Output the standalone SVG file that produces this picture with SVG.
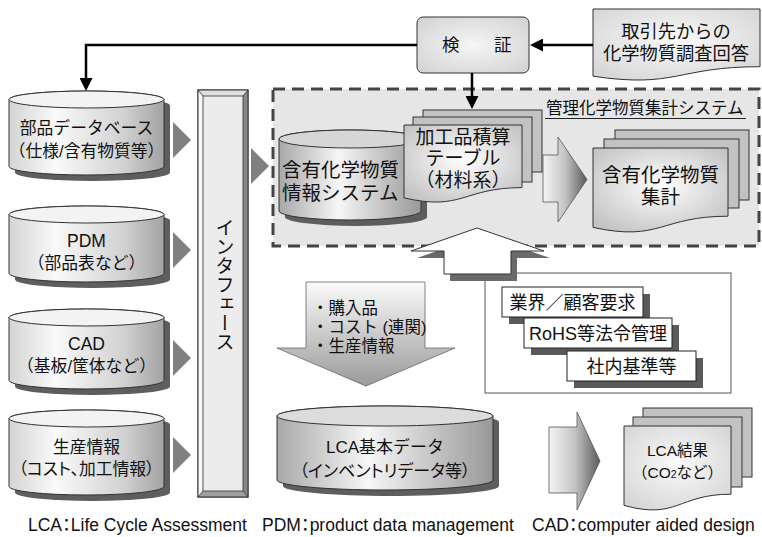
<svg xmlns="http://www.w3.org/2000/svg" width="762" height="537" viewBox="0 0 762 537">
<defs>
<style>
text{font-family:"Liberation Sans","Noto Sans CJK JP",sans-serif;fill:#111;}
.c{text-anchor:middle;}
.ol{stroke:#333;stroke-width:1;}
.sh{fill:#5e5e5e;}
.sheet{fill:#c2c2c2;stroke:#333;stroke-width:1;}
.tri{fill:#808080;}
.conn{fill:none;stroke:#000;stroke-width:2.5;}
.palt{font-feature-settings:"palt";}
.req{fill:#fff;stroke:#222;stroke-width:1;}
.rsh{fill:#5a5a5a;}
</style>
<linearGradient id="gCyl" x1="0" y1="0" x2="1" y2="0">
<stop offset="0" stop-color="#d4d4d4"/><stop offset="0.3" stop-color="#fafafa"/><stop offset="0.75" stop-color="#d0d0d0"/><stop offset="1" stop-color="#a2a2a2"/>
</linearGradient>
<linearGradient id="gCyl2" x1="0" y1="0" x2="1" y2="0">
<stop offset="0" stop-color="#a8a8a8"/><stop offset="0.42" stop-color="#f6f6f6"/><stop offset="1" stop-color="#989898"/>
</linearGradient>
<radialGradient id="gDoc" cx="0.5" cy="0.45" r="0.65">
<stop offset="0" stop-color="#ffffff"/><stop offset="1" stop-color="#c2c2c2"/>
</radialGradient>
<radialGradient id="gDocL" cx="0.5" cy="0.45" r="0.65">
<stop offset="0" stop-color="#fafafa"/><stop offset="1" stop-color="#d6d6d6"/>
</radialGradient>
<radialGradient id="gBox" cx="0.5" cy="0.5" r="0.65">
<stop offset="0" stop-color="#f6f6f6"/><stop offset="1" stop-color="#d4d4d4"/>
</radialGradient>
<linearGradient id="gArrR" x1="0" y1="0" x2="1" y2="0">
<stop offset="0" stop-color="#f4f4f4"/><stop offset="0.5" stop-color="#c4c4c4"/><stop offset="1" stop-color="#5a5a5a"/>
</linearGradient>
<linearGradient id="gArrD" x1="0" y1="0" x2="0" y2="1">
<stop offset="0" stop-color="#fbfbfb"/><stop offset="1" stop-color="#9a9a9a"/>
</linearGradient>
<marker id="ah" markerUnits="userSpaceOnUse" markerWidth="13" markerHeight="13" viewBox="0 0 13 13" refX="8" refY="6.5" orient="auto">
<path d="M0,0 L13,6.5 L0,13 Z" fill="#000"/>
</marker>
</defs>

<!-- dashed system container -->
<g id="system">
<rect x="273" y="89" width="486" height="157" fill="#e6e6e6" stroke="#444" stroke-width="3" stroke-dasharray="12 7"/>
<text x="546" y="114" font-size="16.5">管理化学物質集計システム</text>
<line x1="545" y1="118.5" x2="746" y2="118.5" stroke="#222" stroke-width="1"/>
</g>

<g id="verify">
<rect class="ol" x="417" y="17" width="112" height="56" rx="6" fill="url(#gBox)"/>
<text x="442" y="51" font-size="17.5" letter-spacing="8.5">検　証</text>
</g>

<g id="supplier">
<path class="ol" fill="url(#gDocL)" d="M593,9 H760 V66.7 C676.5,66.7 676.5,88.7 593,76.2 Z"/>
<text class="c" x="676" y="38" font-size="18.3">取引先からの</text>
<text class="c" x="676" y="60" font-size="18.3">化学物質調査回答</text>
</g>

<g id="parts-db">
<path class="sh" transform="translate(6,6)" d="M9,99.5 V166.5 A77.5,8.5 0 0 0 164,166.5 V99.5 A77.5,8.5 0 0 0 9,99.5 Z"/>
<path class="ol" fill="url(#gCyl)" d="M9,99.5 V166.5 A77.5,8.5 0 0 0 164,166.5 V99.5 A77.5,8.5 0 0 0 9,99.5 Z"/>
<ellipse class="ol" cx="86.5" cy="99.5" rx="77.5" ry="8.5" fill="#f3f3f3"/>
<text class="c" x="86.5" y="134" font-size="16.8">部品データベース</text>
<text class="c" x="86.5" y="157" font-size="16.8">（仕様/含有物質等）</text>
</g>

<g id="pdm">
<path class="sh" transform="translate(6,6)" d="M9,214.5 V273.5 A77.5,8.5 0 0 0 164,273.5 V214.5 A77.5,8.5 0 0 0 9,214.5 Z"/>
<path class="ol" fill="url(#gCyl)" d="M9,214.5 V273.5 A77.5,8.5 0 0 0 164,273.5 V214.5 A77.5,8.5 0 0 0 9,214.5 Z"/>
<ellipse class="ol" cx="86.5" cy="214.5" rx="77.5" ry="8.5" fill="#f3f3f3"/>
<text class="c" x="86.5" y="247" font-size="17.5">PDM</text>
<text class="c" x="86.5" y="269" font-size="16.8">（部品表など）</text>
</g>

<g id="cad">
<path class="sh" transform="translate(6,6)" d="M9,317.5 V380.5 A77.5,8.5 0 0 0 164,380.5 V317.5 A77.5,8.5 0 0 0 9,317.5 Z"/>
<path class="ol" fill="url(#gCyl)" d="M9,317.5 V380.5 A77.5,8.5 0 0 0 164,380.5 V317.5 A77.5,8.5 0 0 0 9,317.5 Z"/>
<ellipse class="ol" cx="86.5" cy="317.5" rx="77.5" ry="8.5" fill="#f3f3f3"/>
<text class="c" x="86.5" y="350" font-size="17.5">CAD</text>
<text class="c" x="86.5" y="372" font-size="16.8">（基板/筐体など）</text>
</g>

<g id="production">
<path class="sh" transform="translate(6,6)" d="M9,418.5 V486.5 A77.5,8.5 0 0 0 164,486.5 V418.5 A77.5,8.5 0 0 0 9,418.5 Z"/>
<path class="ol" fill="url(#gCyl)" d="M9,418.5 V486.5 A77.5,8.5 0 0 0 164,486.5 V418.5 A77.5,8.5 0 0 0 9,418.5 Z"/>
<ellipse class="ol" cx="86.5" cy="418.5" rx="77.5" ry="8.5" fill="#f3f3f3"/>
<text class="c" x="86.5" y="453" font-size="16.8">生産情報</text>
<text class="c palt" x="86.5" y="475" font-size="16.8">（コスト、加工情報）</text>
</g>

<g id="interface">
<rect x="198" y="90" width="50" height="407" fill="#d0d0d0" stroke="#333" stroke-width="1"/>
<polygon points="198,90 203,96 203,491 198,497" fill="#f8f8f8"/>
<polygon points="198,90 248,90 243,96 203,96" fill="#dedede"/>
<polygon points="248,90 248,497 243,491 243,96" fill="#888"/>
<polygon points="198,497 248,497 243,491 203,491" fill="#a0a0a0"/>
<rect x="198" y="90" width="50" height="407" fill="none" stroke="#333" stroke-width="1"/>
<line x1="198" y1="90" x2="203" y2="96" stroke="#333" stroke-width="0.8"/>
<line x1="248" y1="90" x2="243" y2="96" stroke="#333" stroke-width="0.8"/>
<line x1="198" y1="497" x2="203" y2="491" stroke="#333" stroke-width="0.8"/>
<line x1="248" y1="497" x2="243" y2="491" stroke="#333" stroke-width="0.8"/>
<rect x="203" y="96" width="40" height="395" fill="#ececec" stroke="#333" stroke-width="0.8"/>
<text class="c" x="223" y="285" font-size="19" style="writing-mode:vertical-rl">インタフェース</text>
</g>

<g id="content-db">
<path class="sh" transform="translate(6,6)" d="M279,139 V211 A71,9 0 0 0 421,211 V139 A71,9 0 0 0 279,139 Z"/>
<path class="ol" fill="url(#gCyl2)" d="M279,139 V211 A71,9 0 0 0 421,211 V139 A71,9 0 0 0 279,139 Z"/>
<ellipse class="ol" cx="350" cy="139" rx="71" ry="9" fill="#d6d6d6"/>
<text x="282" y="177" font-size="19.5">含有化学物質</text>
<text x="282" y="200" font-size="19.5">情報システム</text>
</g>

<g id="processed-table">
<rect class="sheet" x="423" y="110" width="119" height="62"/>
<rect class="sheet" x="413" y="117" width="119" height="65"/>
<path class="ol" fill="url(#gDoc)" d="M404,125 H522 V187.6 C463,187.6 463,211.4 404,197.9 Z"/>
<text class="c" x="463" y="143.5" font-size="19">加工品積算</text>
<text class="c" x="463" y="164.5" font-size="19">テーブル</text>
<text class="c" x="463" y="186.5" font-size="19">（材料系）</text>
</g>

<g id="aggregate">
<rect class="sheet" x="615" y="130" width="134" height="70"/>
<rect class="sheet" x="604" y="139" width="135" height="69"/>
<path class="ol" fill="url(#gDoc)" d="M593,148 H728 V216.2 C660.5,216.2 660.5,242.1 593,227.4 Z"/>
<text class="c" x="660.5" y="182" font-size="19.5">含有化学物質</text>
<text class="c" x="660.5" y="204" font-size="19.5">集計</text>
</g>

<g id="requirements">
<rect x="485" y="273" width="246" height="120" fill="#fff" stroke="#555" stroke-width="1"/>
<rect class="rsh" x="509" y="294" width="141" height="30"/>
<rect class="req" x="502" y="287" width="141" height="30"/>
<text class="c" x="572.5" y="308.5" font-size="18">業界／顧客要求</text>
<rect class="rsh" x="531" y="325" width="148" height="30"/>
<rect class="req" x="524" y="318" width="148" height="30"/>
<text class="c" x="598" y="339.5" font-size="18">RoHS等法令管理</text>
<rect class="rsh" x="574" y="358" width="129" height="30"/>
<rect class="req" x="567" y="351" width="129" height="30"/>
<text class="c" x="631.5" y="372.5" font-size="18">社内基準等</text>
</g>

<g id="lca-db">
<path class="sh" transform="translate(6,6)" d="M277,416 V480 A108,10 0 0 0 493,480 V416 A108,10 0 0 0 277,416 Z"/>
<path class="ol" fill="url(#gCyl2)" d="M277,416 V480 A108,10 0 0 0 493,480 V416 A108,10 0 0 0 277,416 Z"/>
<ellipse class="ol" cx="385" cy="416" rx="108" ry="10" fill="#dcdcdc"/>
<text class="c" x="385" y="453" font-size="17">LCA基本データ</text>
<text class="c palt" x="385" y="477" font-size="17">（インベントリデータ等）</text>
</g>

<g id="lca-result">
<rect class="sheet" x="643" y="408" width="109" height="69"/>
<rect class="sheet" x="633" y="417" width="109" height="70"/>
<path class="ol" fill="url(#gDocL)" d="M624,426 H731 V494.2 C677.5,494.2 677.5,520.1 624,505.4 Z"/>
<text class="c" x="677.5" y="456" font-size="15.5">LCA結果</text>
<text class="c" x="677.5" y="478" font-size="15.5">（CO<tspan font-size="10.5">2</tspan>など）</text>
</g>

<g id="connectors">
<path class="conn" d="M593,45 H535" marker-end="url(#ah)"/>
<path class="conn" d="M417,45 H86 V86" marker-end="url(#ah)"/>
<path class="conn" d="M472,73 V104" marker-end="url(#ah)"/>
<polygon class="tri" points="173,122 191,140 173,158"/>
<polygon class="tri" points="173,232 191,250 173,268"/>
<polygon class="tri" points="173,340 191,358 173,376"/>
<polygon class="tri" points="173,437 191,455 173,473"/>
<polygon class="tri" points="251,148 269,166 251,184"/>
<path fill="url(#gArrR)" stroke="#555" stroke-width="0.8" d="M543,155 H558 V137 L587,179.5 L558,222 V202 H543 Z"/>
<path fill="#6a6a6a" transform="translate(6,7)" d="M477,228 L544,251 H511 V274 H444 V251 H411 Z"/>
<path fill="#fff" stroke="#333" stroke-width="1" d="M477,228 L544,251 H511 V274 H444 V251 H411 Z"/>
<path fill="url(#gArrD)" stroke="#666" stroke-width="0.8" d="M306,282 H425 V348 H455 L366,386 L277,348 H306 Z"/>
<text x="312" y="314" font-size="16.5">・購入品</text>
<text x="312" y="333" font-size="16.5">・コスト (連関)</text>
<text x="312" y="352" font-size="16.5">・生産情報</text>
<path fill="url(#gArrR)" stroke="#555" stroke-width="0.8" d="M549,427 H577 V412 L600,461 L577,510 V493 H549 Z"/>
</g>

<g id="legend">
<text class="palt" x="28" y="531" font-size="17.5">LCA：Life Cycle Assessment</text>
<text class="palt" x="262" y="531" font-size="17.5">PDM：product data management</text>
<text class="palt" x="532" y="531" font-size="17.5">CAD：computer aided design</text>
</g>
</svg>
